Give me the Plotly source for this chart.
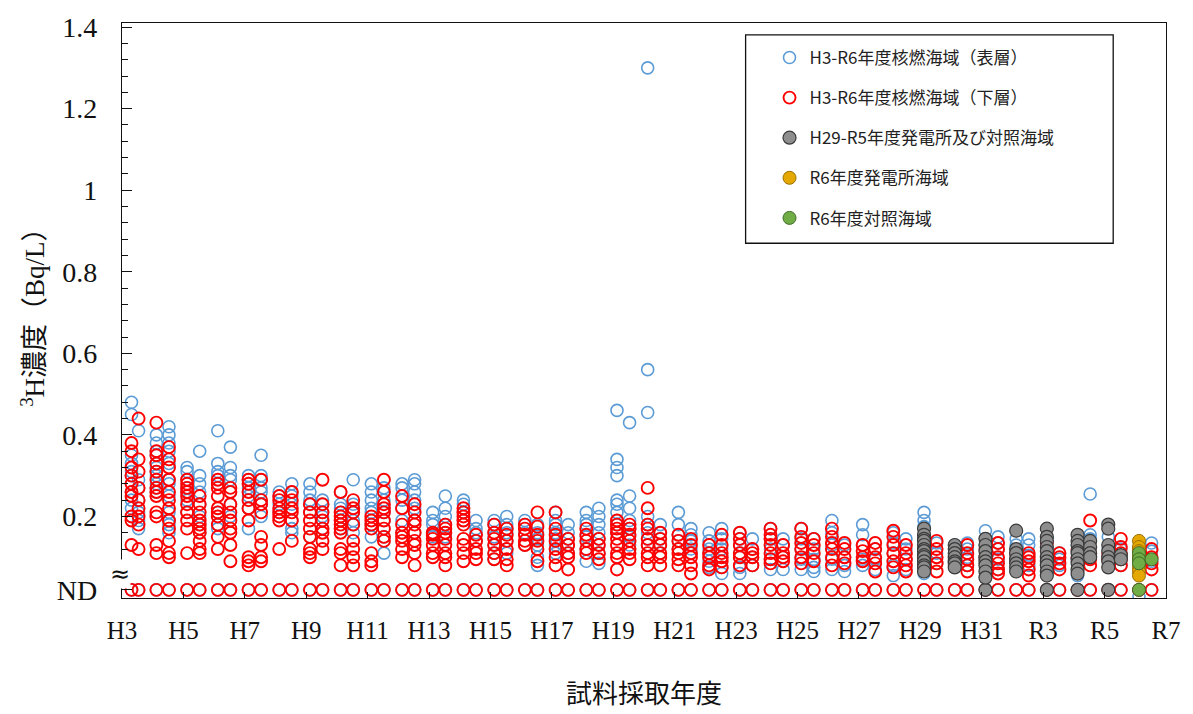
import plotly.graph_objects as go

# ---------------- data ----------------
years = list(range(3, 37))  # H3 .. H31(=R1=31) .. R6(=36)

x_tick_vals = list(range(3, 38, 2))
x_tick_text = ["H3", "H5", "H7", "H9", "H11", "H13", "H15", "H17", "H19", "H21",
               "H23", "H25", "H27", "H29", "H31", "R3", "R5", "R7"]

ND_Y = 0.02
y_tick_vals = [ND_Y, 0.2, 0.4, 0.6, 0.8, 1.0, 1.2, 1.4]
y_tick_text = ["ND", "0.2", "0.4", "0.6", "0.8", "1", "1.2", "1.4"]

# surface layer (blue), first and second sampling of each fiscal year
surface_first = [
    [0.48, 0.45, 0.35, 0.33, 0.31, 0.30, 0.28, 0.26, 0.24, 0.22, 0.20],
    [0.40, 0.38, 0.36, 0.35, 0.33, 0.32, 0.31, 0.30, 0.28, 0.27, 0.26],
    [0.32, 0.31, 0.29, 0.27, 0.26, 0.24, 0.21],
    [0.41, 0.33, 0.31, 0.30, 0.28, 0.21, 0.18, 0.17],
    [0.30, 0.29, 0.27, 0.25, 0.22, 0.17],
    [0.26, 0.25, 0.23, 0.21],
    [0.28, 0.26, 0.24, 0.23, 0.21, 0.15],
    [0.26, 0.23, 0.22, 0.21, 0.19, 0.17],
    [0.28, 0.26, 0.24, 0.22, 0.21, 0.18, 0.15],
    [0.28, 0.27, 0.24, 0.22, 0.19, 0.16],
    [0.21, 0.19, 0.18, 0.16, 0.15],
    [0.24, 0.23, 0.21, 0.19],
    [0.19, 0.18, 0.16, 0.15, 0.13, 0.11, 0.095],
    [0.19, 0.18, 0.16, 0.13],
    [0.21, 0.19, 0.18, 0.16, 0.145, 0.13, 0.11],
    [0.21, 0.19, 0.18, 0.15, 0.12, 0.09],
    [0.46, 0.34, 0.32, 0.30, 0.24, 0.23, 0.21, 0.19, 0.18, 0.16],
    [1.30, 0.56, 0.455, 0.20, 0.18, 0.16, 0.145, 0.13],
    [0.21, 0.18, 0.155, 0.14, 0.12],
    [0.16, 0.14, 0.12, 0.11, 0.09, 0.075],
    [0.16, 0.145, 0.13, 0.11, 0.10, 0.075, 0.06],
    [0.17, 0.145, 0.12, 0.095, 0.07],
    [0.17, 0.145, 0.12, 0.095, 0.07],
    [0.19, 0.16, 0.13, 0.095, 0.07],
    [0.18, 0.155, 0.13, 0.095, 0.08],
    [0.16, 0.135, 0.11, 0.08, 0.055],
    [0.21, 0.19, 0.175, 0.155, 0.13, 0.10, 0.06],
    [0.13, 0.12, 0.10, 0.08],
    [0.165, 0.145, 0.13],
    [0.145, 0.13, 0.10],
    [0.145, 0.12, 0.09],
    [0.13, 0.095, 0.055],
    [0.15, 0.12, 0.10],
    [0.005],
]
surface_second = [
    [0.41, 0.29, 0.27, 0.24, 0.21, 0.19, 0.17],
    [0.42, 0.40, 0.38, 0.36, 0.33, 0.29, 0.28, 0.25, 0.21, 0.19, 0.18, 0.16],
    [0.36, 0.30, 0.28, 0.26, 0.23, 0.20, 0.18, 0.16],
    [0.37, 0.32, 0.30, 0.29, 0.26, 0.23, 0.20],
    [0.35, 0.30, 0.29, 0.27, 0.26, 0.23, 0.20],
    [0.28, 0.26, 0.25, 0.23, 0.19, 0.17, 0.16],
    [0.24, 0.23, 0.21, 0.20, 0.17],
    [0.29, 0.23, 0.21, 0.19, 0.18, 0.16],
    [0.27, 0.24, 0.21, 0.19, 0.15, 0.11],
    [0.29, 0.28, 0.26, 0.24, 0.22, 0.19, 0.16],
    [0.25, 0.22, 0.20, 0.18, 0.16, 0.15],
    [0.19, 0.17, 0.16, 0.14],
    [0.20, 0.18, 0.17, 0.16, 0.14, 0.12, 0.11],
    [0.18, 0.16, 0.145, 0.13, 0.10, 0.08],
    [0.18, 0.16, 0.145, 0.13, 0.11],
    [0.22, 0.20, 0.18, 0.16, 0.145, 0.13, 0.11, 0.085],
    [0.43, 0.25, 0.22, 0.19, 0.17, 0.15, 0.13],
    [0.18, 0.16, 0.145, 0.13, 0.11],
    [0.17, 0.155, 0.14, 0.12, 0.11],
    [0.17, 0.145, 0.12, 0.10, 0.075, 0.06],
    [0.145, 0.12, 0.10, 0.08],
    [0.145, 0.13, 0.10, 0.07],
    [0.145, 0.12, 0.095, 0.075, 0.065],
    [0.13, 0.10, 0.08, 0.065],
    [0.12, 0.095, 0.07],
    [0.145, 0.12, 0.095, 0.07],
    [0.135, 0.11, 0.085],
    [0.135, 0.12, 0.10, 0.08],
    [0.15, 0.135, 0.12, 0.095, 0.07],
    [0.145, 0.13, 0.105, 0.08],
    [0.11, 0.095, 0.08],
    [0.255, 0.155, 0.145, 0.10],
    [0.12, 0.08],
    [0.135, 0.115, 0.09],
]

# bottom layer (red)
bottom_first = [
    [0.38, 0.36, 0.32, 0.30, 0.28, 0.26, 0.25, 0.20, 0.19, 0.13],
    [0.43, 0.36, 0.35, 0.33, 0.31, 0.29, 0.27, 0.26, 0.25, 0.21, 0.20, 0.13, 0.11],
    [0.29, 0.28, 0.27, 0.26, 0.25, 0.23, 0.21, 0.19, 0.17, 0.11],
    [0.29, 0.28, 0.27, 0.25, 0.22, 0.21, 0.20, 0.18, 0.15, 0.12],
    [0.29, 0.28, 0.26, 0.24, 0.22, 0.19, 0.10, 0.09, 0.08],
    [0.25, 0.24, 0.22, 0.21, 0.20, 0.19, 0.12],
    [0.23, 0.21, 0.19, 0.17, 0.15, 0.12, 0.11, 0.10],
    [0.26, 0.21, 0.20, 0.19, 0.18, 0.17, 0.16, 0.12, 0.11, 0.08],
    [0.20, 0.19, 0.18, 0.17, 0.11, 0.09, 0.08],
    [0.25, 0.22, 0.18, 0.16, 0.15, 0.14, 0.12, 0.10],
    [0.16, 0.155, 0.145, 0.13, 0.11, 0.10],
    [0.22, 0.21, 0.20, 0.19, 0.18, 0.145, 0.13, 0.11, 0.09],
    [0.18, 0.16, 0.145, 0.13, 0.11, 0.095],
    [0.18, 0.17, 0.155, 0.14, 0.13],
    [0.21, 0.17, 0.155, 0.14, 0.12, 0.10, 0.08],
    [0.17, 0.155, 0.14, 0.12, 0.11],
    [0.19, 0.18, 0.17, 0.16, 0.145, 0.13, 0.11, 0.10, 0.07],
    [0.27, 0.22, 0.18, 0.17, 0.145, 0.13, 0.11, 0.10, 0.08],
    [0.155, 0.14, 0.12, 0.11, 0.095, 0.08],
    [0.13, 0.11, 0.10, 0.08, 0.07],
    [0.16, 0.145, 0.13, 0.11, 0.10, 0.08],
    [0.17, 0.155, 0.145, 0.13, 0.11, 0.095, 0.085],
    [0.17, 0.15, 0.135, 0.12, 0.10, 0.085],
    [0.17, 0.15, 0.135, 0.12, 0.10, 0.08],
    [0.13, 0.115, 0.10, 0.09],
    [0.165, 0.15, 0.13, 0.11, 0.09, 0.075],
    [0.12, 0.10],
    [0.10, 0.08],
    [0.12, 0.10],
    [0.11, 0.095],
    [0.135, 0.10, 0.08],
    [0.12, 0.10],
    [0.11, 0.095],
    [0.12, 0.10],
]
bottom_second = [
    [0.44, 0.34, 0.31, 0.27, 0.24, 0.22, 0.20, 0.18, 0.12],
    [0.37, 0.34, 0.32, 0.29, 0.26, 0.24, 0.22, 0.19, 0.17, 0.14, 0.11, 0.10],
    [0.25, 0.23, 0.21, 0.19, 0.18, 0.17, 0.16, 0.14, 0.12, 0.11],
    [0.27, 0.26, 0.23, 0.21, 0.19, 0.17, 0.16, 0.13, 0.09],
    [0.29, 0.24, 0.23, 0.21, 0.15, 0.13, 0.10, 0.09],
    [0.26, 0.24, 0.22, 0.21, 0.19, 0.14],
    [0.29, 0.23, 0.21, 0.19, 0.17, 0.16, 0.14, 0.12],
    [0.24, 0.22, 0.21, 0.18, 0.14, 0.12, 0.10, 0.08],
    [0.29, 0.26, 0.23, 0.22, 0.21, 0.19, 0.17, 0.15, 0.14],
    [0.23, 0.21, 0.19, 0.18, 0.16, 0.14, 0.13, 0.11, 0.08],
    [0.18, 0.17, 0.16, 0.145, 0.13, 0.11, 0.10, 0.08],
    [0.155, 0.14, 0.12, 0.11, 0.095],
    [0.17, 0.155, 0.14, 0.12, 0.095, 0.08],
    [0.21, 0.175, 0.155, 0.14, 0.12, 0.09],
    [0.145, 0.13, 0.11, 0.10, 0.07],
    [0.145, 0.13, 0.11, 0.095],
    [0.18, 0.17, 0.155, 0.14, 0.12, 0.11, 0.095],
    [0.16, 0.145, 0.13, 0.11, 0.10, 0.08],
    [0.145, 0.13, 0.11, 0.10, 0.08, 0.06],
    [0.155, 0.13, 0.11, 0.10, 0.09, 0.075],
    [0.12, 0.11, 0.10, 0.08],
    [0.13, 0.11, 0.10, 0.09],
    [0.145, 0.13, 0.11, 0.09],
    [0.135, 0.12, 0.10, 0.085],
    [0.135, 0.12, 0.10, 0.085, 0.065],
    [0.13, 0.11, 0.095, 0.08, 0.065],
    [0.14, 0.12, 0.10, 0.085, 0.065],
    [0.13, 0.11, 0.095, 0.08, 0.065],
    [0.135, 0.12, 0.10, 0.085, 0.07, 0.06],
    [0.11, 0.10, 0.09, 0.07, 0.055],
    [0.11, 0.10, 0.085, 0.07],
    [0.19, 0.11, 0.095, 0.08],
    [0.145, 0.125, 0.11, 0.095, 0.08],
    [0.12, 0.10, 0.085, 0.07],
]

# H29-R5 power-plant and control areas (grey)
comparison_years = [29, 30, 31, 32, 33, 34, 35]
comparison_first = [
    [0.17, 0.155, 0.145, 0.14, 0.13, 0.12, 0.115, 0.105, 0.10, 0.09, 0.08, 0.075, 0.065],
    [0.13, 0.12, 0.11, 0.10, 0.09, 0.085, 0.075],
    [0.145, 0.13, 0.115, 0.10, 0.09, 0.08, 0.065, 0.05],
    [0.165, 0.12, 0.11, 0.095, 0.085, 0.075, 0.065],
    [0.17, 0.15, 0.14, 0.125, 0.115, 0.10, 0.09, 0.08, 0.065, 0.055],
    [0.155, 0.14, 0.13, 0.115, 0.11, 0.095, 0.085, 0.07, 0.06],
    [0.18, 0.17, 0.13, 0.115, 0.10, 0.09, 0.075],
]
comparison_second = [[], [], [], [], [], [0.14, 0.125, 0.11, 0.10], [0.105, 0.095]]
comparison_nd_years = [31, 33, 34, 35]

# R6 power-plant area (gold) and R6 control area (green)
r6_year = 36
r6_plant = [0.14, 0.125, 0.115, 0.10, 0.09, 0.075, 0.065, 0.055]
r6_control_first = [0.11, 0.095, 0.085]
r6_control_second = [0.095]
r6_control_nd = True

# ---------------- helpers ----------------
def x_first(yr):
    return 3.31 if yr == 3 else yr + 0.12


def x_second(yr):
    return 3.54 if yr == 3 else yr + 0.53


def layer_points(first, second, with_nd=True):
    xs, ys = [], []
    for i, yr in enumerate(years):
        if with_nd:
            xs += [x_first(yr), x_second(yr)]
            ys += [ND_Y, ND_Y]
        for v in first[i]:
            xs.append(x_first(yr)); ys.append(v)
        for v in second[i]:
            xs.append(x_second(yr)); ys.append(v)
    return xs, ys


sx, sy = layer_points(surface_first, surface_second)
bx, by = layer_points(bottom_first, bottom_second)

gx, gy = [], []
for i, yr in enumerate(comparison_years):
    if yr in comparison_nd_years:
        gx.append(x_first(yr)); gy.append(ND_Y)
    for v in comparison_first[i]:
        gx.append(x_first(yr)); gy.append(v)
    for v in comparison_second[i]:
        gx.append(x_second(yr)); gy.append(v)

px_ = [x_first(r6_year)] * len(r6_plant)
py_ = list(r6_plant)

cx, cy = [], []
if r6_control_nd:
    cx.append(x_first(r6_year)); cy.append(ND_Y)
for v in r6_control_first:
    cx.append(x_first(r6_year)); cy.append(v)
for v in r6_control_second:
    cx.append(x_second(r6_year)); cy.append(v)

BLUE = "#5B9BD5"
RED = "#FF0000"

fig = go.Figure()
fig.add_trace(go.Scatter(
    x=sx, y=sy, mode="markers", name="H3-R6年度核燃海域（表層）", legendgroup="a",
    marker=dict(symbol="circle-open", size=12, color=BLUE, line=dict(width=1.6, color=BLUE))))
fig.add_trace(go.Scatter(
    x=bx, y=by, mode="markers", name="H3-R6年度核燃海域（下層）", legendgroup="b",
    marker=dict(symbol="circle-open", size=12, color=RED, line=dict(width=1.9, color=RED))))
fig.add_trace(go.Scatter(
    x=gx, y=gy, mode="markers", name="H29-R5年度発電所及び対照海域", legendgroup="c",
    marker=dict(symbol="circle", size=13, color="#8E8E8E", line=dict(width=1.2, color="#3A3A3A"))))
fig.add_trace(go.Scatter(
    x=px_, y=py_, mode="markers", name="R6年度発電所海域", legendgroup="d",
    marker=dict(symbol="circle", size=13, color="#E5A800", line=dict(width=1.0, color="#9A7000"))))
fig.add_trace(go.Scatter(
    x=cx, y=cy, mode="markers", name="R6年度対照海域", legendgroup="e",
    marker=dict(symbol="circle", size=13, color="#70AD47", line=dict(width=1.0, color="#3F6B25"))))

L, R, T, B = 122, 23, 21, 116
W, H = 1193, 714
pw, ph = W - L - R, H - T - B


def paper_x(px):
    return (px - L) / pw


def paper_y(py):
    return 1 - (py - T) / ph


serif = "Liberation Serif, Noto Sans CJK JP"

minor_vals = [round(0.04 * k, 2) for k in range(2, 35) if k % 5 != 0]

fig.update_layout(
    width=W, height=H,
    margin=dict(l=L, r=R, t=T, b=B),
    plot_bgcolor="white", paper_bgcolor="white",
    showlegend=True,
    legend=dict(
        x=paper_x(772), y=paper_y(38), xanchor="left", yanchor="top",
        bgcolor="rgba(0,0,0,0)", borderwidth=0,
        font=dict(family="Noto Sans CJK JP", size=17, color="#222"),
        tracegroupgap=15, itemsizing="trace",
    ),
    xaxis=dict(
        range=[3, 37], tickmode="array", tickvals=x_tick_vals, ticktext=x_tick_text,
        showgrid=False, zeroline=False, showline=True, linecolor="#111", linewidth=1.3,
        mirror=True, ticks="inside", ticklen=6, tickcolor="#111", tickwidth=1.3,
        ticklabelstandoff=10,
        tickfont=dict(family=serif, size=25, color="#111"),
    ),
    yaxis=dict(
        range=[0, 1.41], tickmode="array", tickvals=y_tick_vals, ticktext=y_tick_text,
        showgrid=False, zeroline=False, showline=True, linecolor="#111", linewidth=1.3,
        mirror=True, ticks="inside", ticklen=10, tickcolor="#111", tickwidth=1.3,
        ticklabelstandoff=18,
        tickfont=dict(family=serif, size=28, color="#111"),
        minor=dict(tickmode="array", tickvals=minor_vals, ticks="inside", ticklen=6,
                   tickcolor="#111", tickwidth=1.1, showgrid=False),
    ),
    shapes=[dict(type="rect", xref="paper", yref="paper",
                 x0=paper_x(748), x1=paper_x(1117), y0=paper_y(242), y1=paper_y(33),
                 line=dict(color="#111", width=1.3), fillcolor="rgba(0,0,0,0)")],
    annotations=[
        dict(text="<sup>3</sup>H濃度（Bq/L）", xref="paper", yref="paper",
             x=paper_x(32), y=0.5, xanchor="center", yanchor="middle",
             textangle=-90, showarrow=False,
             font=dict(family=serif, size=27, color="#111")),
        dict(text="試料採取年度", xref="paper", yref="paper",
             x=0.5, y=paper_y(692), xanchor="center", yanchor="middle", showarrow=False,
             font=dict(family="Noto Sans CJK JP", size=26, color="#111")),
        dict(text="≈", xref="paper", yref="y", x=paper_x(120), y=0.058,
             xanchor="center", yanchor="middle",
             showarrow=False, bgcolor="white", borderpad=0,
             font=dict(family="DejaVu Sans", size=24, color="#111")),
    ],
)

fig.write_html("out.html", config={"displayModeBar": False},
               post_script="document.body.style.margin='0';")
